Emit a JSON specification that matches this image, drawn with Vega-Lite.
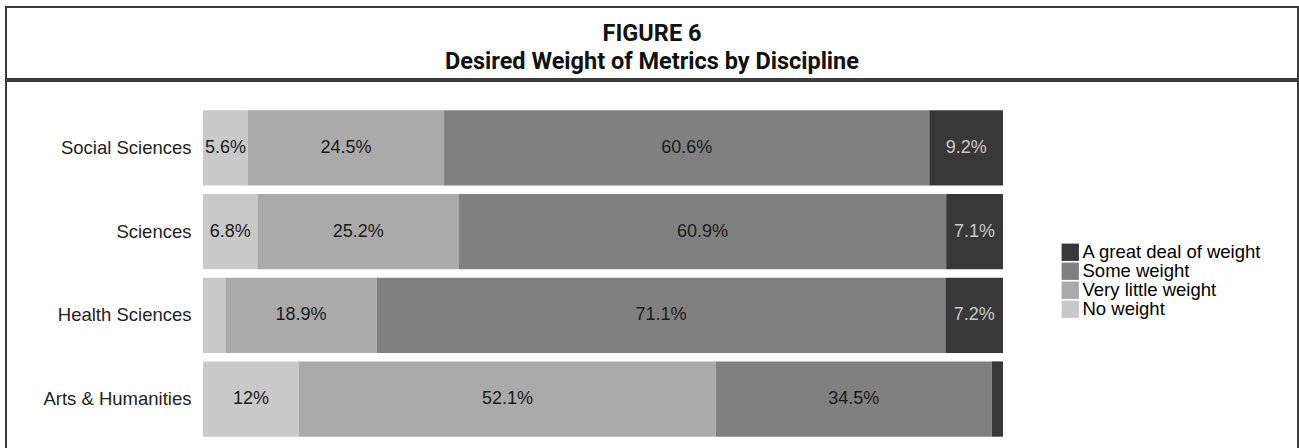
{
  "$schema": "https://vega.github.io/schema/vega-lite/v6.json",
  "padding": {"left": 5, "top": 6, "right": 0, "bottom": 0},
  "background": "white",
  "spacing": 0,
  "config": {"view": {"stroke": "#3c3c3c", "strokeWidth": 2}, "font": "Liberation Sans"},
  "resolve": {"legend": {"color": "independent"}, "scale": {"color": "independent"}},
  "vconcat": [
    {
      "width": 1292,
      "height": 72,
      "data": {"values": [
        {"line": "FIGURE 6", "row": 1},
        {"line": "Desired Weight of Metrics by Discipline", "row": 2}
      ]},
      "mark": {"type": "text", "font": "Roboto", "fontWeight": "bold", "fontSize": 23.5, "baseline": "middle", "align": "center", "color": "#111"},
      "encoding": {
        "y": {"field": "row", "type": "quantitative", "scale": {"domain": [0.0357, 2.607], "reverse": true, "nice": false, "zero": false}, "axis": null},
        "text": {"field": "line", "type": "nominal"}
      }
    },
    {
      "width": 1292,
      "height": 385,
      "data": {"values": [
        {"discipline": "Social Sciences", "weight": "No weight", "order": 1, "value": 0.056},
        {"discipline": "Social Sciences", "weight": "Very little weight", "order": 2, "value": 0.245},
        {"discipline": "Social Sciences", "weight": "Some weight", "order": 3, "value": 0.606},
        {"discipline": "Social Sciences", "weight": "A great deal of weight", "order": 4, "value": 0.092},
        {"discipline": "Sciences", "weight": "No weight", "order": 1, "value": 0.068},
        {"discipline": "Sciences", "weight": "Very little weight", "order": 2, "value": 0.252},
        {"discipline": "Sciences", "weight": "Some weight", "order": 3, "value": 0.609},
        {"discipline": "Sciences", "weight": "A great deal of weight", "order": 4, "value": 0.071},
        {"discipline": "Health Sciences", "weight": "No weight", "order": 1, "value": 0.028},
        {"discipline": "Health Sciences", "weight": "Very little weight", "order": 2, "value": 0.189},
        {"discipline": "Health Sciences", "weight": "Some weight", "order": 3, "value": 0.711},
        {"discipline": "Health Sciences", "weight": "A great deal of weight", "order": 4, "value": 0.072},
        {"discipline": "Arts & Humanities", "weight": "No weight", "order": 1, "value": 0.12},
        {"discipline": "Arts & Humanities", "weight": "Very little weight", "order": 2, "value": 0.521},
        {"discipline": "Arts & Humanities", "weight": "Some weight", "order": 3, "value": 0.345},
        {"discipline": "Arts & Humanities", "weight": "A great deal of weight", "order": 4, "value": 0.014}
      ]},
      "transform": [
        {"stack": "value", "groupby": ["discipline"], "sort": [{"field": "order", "order": "ascending"}], "offset": "normalize", "as": ["x0", "x1"]},
        {"calculate": "(datum.x0 + datum.x1) / 2", "as": "xm"}
      ],
      "encoding": {
        "y": {
          "field": "discipline", "type": "nominal",
          "sort": ["Social Sciences", "Sciences", "Health Sciences", "Arts & Humanities"],
          "scale": {"paddingInner": 0.1, "paddingOuter": 0.35},
          "axis": {"title": null, "domain": false, "ticks": false, "offset": -197, "labelPadding": 12, "labelFontSize": 18.5, "labelColor": "#222", "labelFont": "Liberation Sans"}
        }
      },
      "layer": [
        {
          "mark": {"type": "bar"},
          "encoding": {
            "x": {"field": "x0", "type": "quantitative", "scale": {"domain": [-0.24625, 1.36875], "nice": false, "zero": false}, "axis": null},
            "x2": {"field": "x1"},
            "color": {
              "field": "weight", "type": "nominal",
              "scale": {"domain": ["A great deal of weight", "Some weight", "Very little weight", "No weight"], "range": ["#383838", "#808080", "#aaaaaa", "#c9c9c9"]},
              "legend": {"orient": "none", "legendX": 1055, "legendY": 162, "title": null, "symbolType": "square", "symbolSize": 300, "symbolStrokeWidth": 0, "symbolOpacity": 1, "labelFontSize": 18.5, "labelFont": "Liberation Sans", "labelColor": "#000", "labelLimit": 400, "rowPadding": 0, "labelOffset": 3, "padding": 0}
            }
          }
        },
        {
          "transform": [{"filter": "datum.value >= 0.03"}],
          "mark": {"type": "text", "fontSize": 18, "font": "Liberation Sans", "baseline": "middle", "align": "center"},
          "encoding": {
            "x": {"field": "xm", "type": "quantitative"},
            "text": {"field": "value", "type": "quantitative", "format": ".1~%"},
            "color": {"condition": {"test": "datum.weight === 'A great deal of weight'", "value": "#c8c8c8"}, "value": "#1a1a1a"}
          }
        }
      ]
    }
  ]
}
